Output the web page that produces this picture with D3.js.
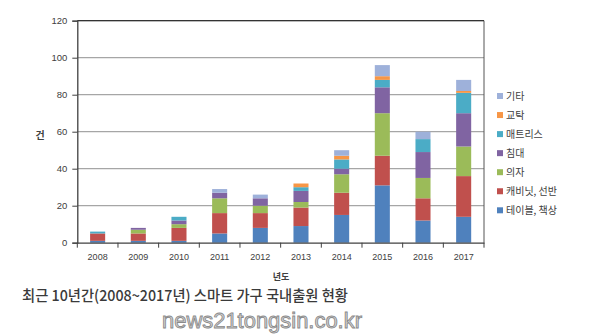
<!DOCTYPE html>
<html><head><meta charset="utf-8">
<script src="https://cdn.jsdelivr.net/npm/d3@7"></script>
<style>body{margin:0;background:#fff}svg{display:block}</style>
</head><body><svg id="c" width="600" height="334"></svg>
<script>
const years = ["2008","2009","2010","2011","2012","2013","2014","2015","2016","2017"];
const seriesNames = ["테이블, 책상","캐비닛, 선반","의자","침대","매트리스","교탁","기타"];
const tableDesk  = [1,1,1,5,8,9,15,31,12,14];
const cabinet    = [4,4,7,11,8,10,12,16,12,22];
const chair      = [0,2,2,8,4,3,10,23,11,16];
const bed        = [0,1,2,3,4,6,3,14,14,18];
const mattress   = [1,0,2,0,0,2,5,4,7,11];
const lectern    = [0,0,0,0,0,2,2,2,0,1];
const other      = [0,0,0,2,2,0,3,6,4,6];
const yTicks = [0,20,40,60,80,100,120];
const colors = ["#4F81BD","#C0504D","#9BBB59","#8064A2","#4BACC6","#F79646","#9EB1DA"];

const allSeries = [tableDesk,cabinet,chair,bed,mattress,lectern,other];
const rows = years.map((y,i)=>{const r={year:y}; seriesNames.forEach((n,k)=>r[n]=allSeries[k][i]); return r;});
const stack = d3.stack().keys(seriesNames)(rows);

const svg = d3.select("#c");
const m = {l:77.3, r:484, t:20.7, b:242.7};
const x = d3.scaleBand().domain(years).range([m.l,m.r]).paddingInner(0.63).paddingOuter(0.315);
const y = d3.scaleLinear().domain([0,120]).range([m.b,m.t]);
const xb = d3.scaleBand().domain(years).range([m.l,m.r]);

// gridlines
svg.append("g").selectAll("line").data(yTicks.filter(t=>t>0)).join("line")
  .attr("x1",m.l).attr("x2",m.r).attr("y1",d=>y(d)).attr("y2",d=>y(d))
  .attr("stroke","#a6a6a6").attr("stroke-width",1.3);
// right border
svg.append("line").attr("x1",m.r).attr("x2",m.r).attr("y1",m.t).attr("y2",m.b).attr("stroke","#555").attr("stroke-width",1);
svg.append("line").attr("x1",m.l).attr("x2",m.r).attr("y1",m.t).attr("y2",m.t).attr("stroke","#333").attr("stroke-width",1.2);

// bars
svg.append("g").selectAll("g").data(stack).join("g").attr("fill",(d,i)=>colors[i])
  .selectAll("rect").data(d=>d).join("rect")
  .attr("x",d=>x(d.data.year)).attr("width",x.bandwidth())
  .attr("y",d=>y(d[1])).attr("height",d=>Math.max(0,y(d[0])-y(d[1])));

// y axis
const ya = d3.axisLeft(y).tickValues(yTicks).tickSize(5).tickPadding(5);
const gy = svg.append("g").attr("transform",`translate(${m.l},0)`).call(ya);
gy.select(".domain").attr("stroke","#404040").attr("stroke-width",1.3);
gy.selectAll(".tick line").attr("stroke","#404040");
gy.selectAll("text").attr("font-family","Liberation Sans, Arial, sans-serif").attr("font-size",9.5).attr("fill","#404040");

// x axis
const xa = d3.axisBottom(xb).tickSize(0).tickPadding(11);
const gx = svg.append("g").attr("transform",`translate(0,${m.b})`).call(xa);
gx.select(".domain").attr("stroke","#404040").attr("stroke-width",1.3);
gx.selectAll("text").attr("font-family","Liberation Sans, Arial, sans-serif").attr("font-size",9).attr("fill","#404040");
svg.append("g").selectAll("line").data(years.concat(["end"])).join("line")
  .attr("x1",(d,i)=>m.l+i*xb.bandwidth()).attr("x2",(d,i)=>m.l+i*xb.bandwidth())
  .attr("y1",m.b).attr("y2",m.b+5).attr("stroke","#404040").attr("stroke-width",1);

// axis titles
svg.append("text").attr("x",281).attr("y",280).attr("text-anchor","middle")
  .attr("font-family","Noto Sans CJK KR").attr("font-weight","bold").attr("font-size",9).attr("fill","#404040").text("년도");
svg.append("text").attr("x",40).attr("y",139).attr("text-anchor","middle")
  .attr("font-family","Noto Sans CJK KR").attr("font-weight","bold").attr("font-size",10).attr("fill","#404040").text("건");

// legend (reverse order)
const leg = svg.append("g");
const legItems = seriesNames.map((n,i)=>({n,c:colors[i]})).reverse();
legItems.forEach((d,i)=>{
  const cy = 96 + i*19.05;
  leg.append("rect").attr("x",497).attr("y",cy-3).attr("width",6).attr("height",6).attr("fill",d.c);
  leg.append("text").attr("x",506).attr("y",cy+3.5).attr("font-family","Noto Sans CJK KR")
    .attr("font-size",10).attr("fill","#404040").text(d.n);
});

// caption
svg.append("text").attr("x",22).attr("y",301).attr("font-family","Noto Sans CJK KR")
  .attr("font-weight",500).attr("font-size",15).attr("fill","#3a3a3a")
  .attr("textLength",326).attr("lengthAdjust","spacingAndGlyphs")
  .text("최근 10년간(2008~2017년) 스마트 가구 국내출원 현황");

// watermark
svg.append("text").attr("x",162).attr("y",328).attr("font-family","Liberation Sans, Arial, sans-serif")
  .attr("font-size",22).attr("fill","#d9d9d9").attr("stroke","#8a8a8a").attr("stroke-width",0.9)
  .attr("textLength",200).attr("lengthAdjust","spacingAndGlyphs")
  .text("news21tongsin.co.kr");
</script></body></html>
